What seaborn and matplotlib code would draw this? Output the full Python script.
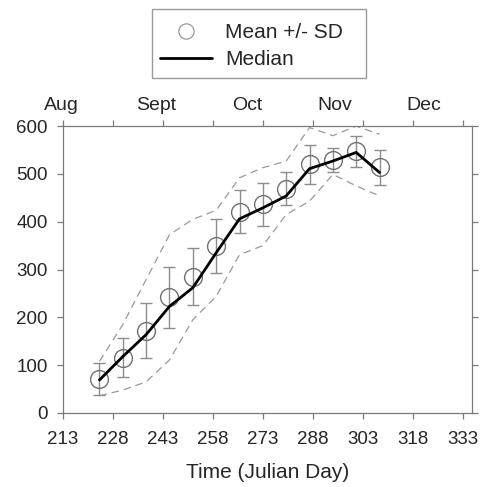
import matplotlib
matplotlib.use("Agg")
import matplotlib.pyplot as plt
from matplotlib.lines import Line2D
from matplotlib.patches import Rectangle
import seaborn as sns
import pandas as pd

days = [224, 231, 238, 245, 252, 259, 266, 273, 280, 287, 294, 301, 308]
mean_vals = [71, 116, 172, 242, 285, 349, 421, 437, 469, 520, 530, 547, 514]
sd_vals = [33, 40, 57, 64, 60, 57, 45, 45, 35, 40, 25, 33, 37]
median_vals = [69, 118, 164, 223, 262, 335, 406, 429, 454, 511, 527, 545, 503]
upper_vals = [108, 185, 279, 373, 405, 424, 492, 513, 527, 597, 580, 600, 583]
lower_vals = [36, 48, 65, 111, 195, 244, 331, 350, 415, 443, 499, 475, 454]
month_labels = ["Aug", "Sept", "Oct", "Nov", "Dec"]
month_pos = [212.7, 240.9, 268.2, 294.6, 321.3]
x_ticks = [213, 228, 243, 258, 273, 288, 303, 318, 333]
y_ticks = [0, 100, 200, 300, 400, 500, 600]

df = pd.DataFrame({"day": days, "mean": mean_vals, "sd": sd_vals,
                   "median": median_vals, "upper": upper_vals, "lower": lower_vals})

sns.set_style("white")
plt.rcParams["font.family"] = ["Liberation Sans", "DejaVu Sans"]

W, H = 483, 487
fig = plt.figure(figsize=(W / 100, H / 100), dpi=100)
ax = fig.add_axes([0.130, 0.152, 0.847, 0.589])

grey = "#999999"
sns.lineplot(data=df, x="day", y="upper", ax=ax, color=grey, lw=0.9,
             linestyle=(0, (6, 4)), legend=False)
sns.lineplot(data=df, x="day", y="lower", ax=ax, color=grey, lw=0.9,
             linestyle=(0, (6, 4)), legend=False)
ax.errorbar(df["day"], df["mean"], yerr=df["sd"], fmt="none", ecolor="#8c8c8c",
            elinewidth=1.0, capsize=4, capthick=1.0, zorder=3)
sns.scatterplot(data=df, x="day", y="mean", ax=ax, s=165,
                edgecolor="#707070", linewidth=1.0, zorder=4, legend=False)
ax.collections[-1].set_facecolor((1, 1, 1, 0.0))
sns.lineplot(data=df, x="day", y="median", ax=ax, color="black", lw=2.0,
             legend=False, zorder=5)

ax.set_xlim(213, 335.7)
ax.set_ylim(0, 600)
ax.set_xticks(x_ticks)
ax.set_yticks(y_ticks)
ax.set_xlabel("Time (Julian Day)", fontsize=15, labelpad=11)
ax.set_ylabel("")
for s in ax.spines.values():
    s.set_color("#7a7a7a")
    s.set_linewidth(0.9)
ax.tick_params(axis="both", which="both", direction="out", length=4,
               width=0.9, color="#7a7a7a", labelsize=13.5, top=True, right=True,
               bottom=True, left=True)
ax.tick_params(axis="x", pad=9)
ax.tick_params(axis="y", pad=7)

for lab, pos in zip(month_labels, month_pos):
    ax.text(pos, 1.056, lab, transform=ax.get_xaxis_transform(),
            ha="center", va="baseline", fontsize=14)

handles = [Line2D([0], [0], marker="o", color="none", markerfacecolor="white",
                  markeredgecolor="#999999", markersize=11, markeredgewidth=0.9),
           Line2D([0], [0], color="black", lw=2.0)]
leg = fig.legend(handles, ["Mean +/- SD", "Median"], loc="upper left",
                 bbox_to_anchor=(160 / W, 1 - 23 / H), fontsize=15, frameon=False,
                 handlelength=2.5, borderpad=0, borderaxespad=0,
                 labelspacing=0.4, handletextpad=0.63)
fig.patches.append(Rectangle((152 / W, 1 - 78 / H), 214 / W, 69 / H,
                             transform=fig.transFigure, fill=False,
                             edgecolor="#9a9a9a", linewidth=1.0))

fig.savefig("out.png", dpi=100)
